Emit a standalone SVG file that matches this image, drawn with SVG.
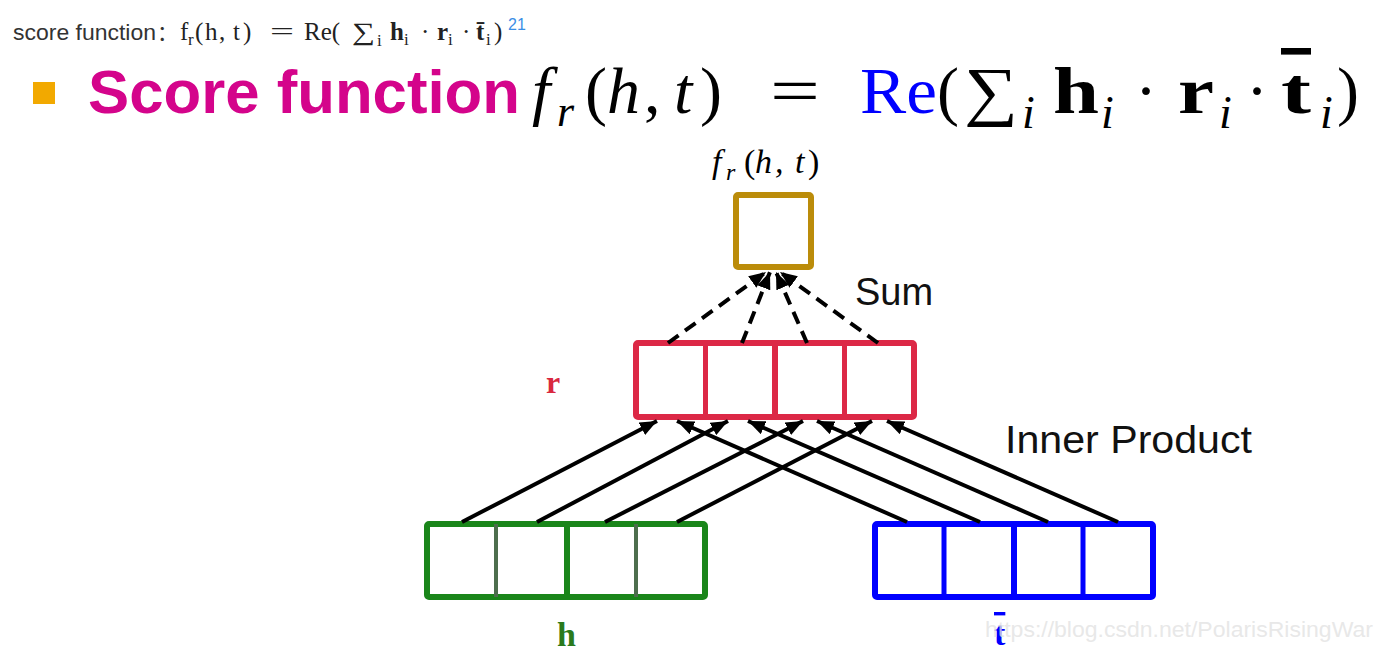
<svg xmlns="http://www.w3.org/2000/svg" width="1400" height="663" viewBox="0 0 1400 663">
<defs>
<style>
.sans{font-family:"Liberation Sans",Arial,sans-serif}
.serif{font-family:"Liberation Serif","Times New Roman",serif}
.it{font-style:italic}
.b{font-weight:bold}
.cell{fill:#ffffff;stroke-width:6;stroke-linejoin:round}
.arrow{stroke:#000;stroke-width:4;fill:none;marker-end:url(#ah)}
.dash{stroke:#000;stroke-width:4;fill:none;stroke-dasharray:13 8;marker-end:url(#ah)}
</style>
<marker id="ah" markerUnits="userSpaceOnUse" markerWidth="17" markerHeight="14" refX="17" refY="7" orient="auto">
<path d="M0,0 L17,7 L0,14 z" fill="#000"/>
</marker>
</defs>
<rect width="1400" height="663" fill="#ffffff"/>

<g id="caption">
<text class="sans" x="13" y="40" font-size="22" fill="#333" textLength="143" lengthAdjust="spacingAndGlyphs">score function</text>
<text x="157" y="40" font-size="21" fill="#333" font-family="'Noto Sans CJK SC',sans-serif">：</text>
<text class="serif" y="40" font-size="25" fill="#222"><tspan x="180">f</tspan><tspan x="188" y="45" font-size="17">r</tspan><tspan x="195" y="40">(</tspan><tspan x="205">h</tspan><tspan x="219">,</tspan><tspan x="233">t</tspan><tspan x="243">)</tspan><tspan x="270" textLength="24" lengthAdjust="spacingAndGlyphs">=</tspan><tspan x="304">Re(</tspan><tspan x="352" textLength="23" lengthAdjust="spacingAndGlyphs">∑</tspan><tspan x="377" y="46" font-size="17">i</tspan><tspan x="390" y="40" font-weight="bold">h</tspan><tspan x="404" y="45" font-size="17">i</tspan><tspan x="421" y="40">·</tspan><tspan x="437" font-weight="bold">r</tspan><tspan x="448" y="45" font-size="17">i</tspan><tspan x="462" y="40">·</tspan><tspan x="476" font-weight="bold">t&#x304;</tspan><tspan x="486" y="45" font-size="17">i</tspan><tspan x="494" y="40">)</tspan></text>
<text class="sans" x="508" y="30" font-size="16" fill="#3a8ee6">21</text>
</g>

<g id="title">
<rect x="33" y="82" width="22" height="22" fill="#f2a900"/>
<text class="sans b" x="88" y="113" font-size="62" fill="#d4048b" textLength="432" lengthAdjust="spacingAndGlyphs">Score function</text>
<text class="serif" y="113" font-size="66" fill="#000"><tspan x="532" class="it">f</tspan><tspan x="557" y="126" font-size="44" class="it">r</tspan><tspan x="585" y="113">(</tspan><tspan x="607" class="it">h</tspan><tspan x="644">,</tspan><tspan x="674" class="it">t</tspan><tspan x="700">)</tspan><tspan x="770" textLength="50" lengthAdjust="spacingAndGlyphs">=</tspan><tspan x="860" fill="#0000ff" textLength="77" lengthAdjust="spacingAndGlyphs">Re</tspan><tspan x="937">(</tspan><tspan x="964" textLength="54" lengthAdjust="spacingAndGlyphs">∑</tspan><tspan x="1022" y="128" font-size="46" class="it">i</tspan><tspan x="1053" y="113" font-weight="bold" textLength="46" lengthAdjust="spacingAndGlyphs">h</tspan><tspan x="1101" y="128" font-size="46" class="it">i</tspan><tspan x="1135" y="113">·</tspan><tspan x="1178" font-weight="bold" textLength="36" lengthAdjust="spacingAndGlyphs">r</tspan><tspan x="1219" y="128" font-size="46" class="it">i</tspan><tspan x="1246" y="113">·</tspan><tspan x="1281" font-weight="bold" text-decoration="overline" textLength="30" lengthAdjust="spacingAndGlyphs">t</tspan><tspan x="1320" y="128" font-size="46" class="it">i</tspan><tspan x="1337" y="113">)</tspan></text>
</g>

<g id="score">
<text class="serif it" y="173" font-size="34" fill="#000"><tspan x="712">f</tspan><tspan x="726" y="180" font-size="24">r</tspan><tspan x="744" y="173" font-style="normal">(</tspan><tspan x="755">h</tspan><tspan x="775">,</tspan><tspan x="795">t</tspan><tspan x="808" font-style="normal">)</tspan></text>
<rect class="cell" x="736" y="195" width="75" height="72" rx="2" stroke="#bb8c0a"/>
</g>

<g id="r-vector">
<rect class="cell" x="636" y="343" width="278" height="74" rx="2" stroke="#dc2846"/>
<line x1="705.5" y1="343" x2="705.5" y2="417" stroke="#dc2846" stroke-width="5"/>
<line x1="775" y1="343" x2="775" y2="417" stroke="#dc2846" stroke-width="6"/>
<line x1="844.5" y1="343" x2="844.5" y2="417" stroke="#dc2846" stroke-width="5"/>
<text class="serif b" x="546" y="393" font-size="32" fill="#d9283f">r</text>
</g>

<g id="h-vector">
<rect class="cell" x="427" y="524" width="278" height="73" rx="2" stroke="#1a861a"/>
<line x1="496" y1="524" x2="496" y2="597" stroke="#4d6e4d" stroke-width="4"/>
<line x1="567" y1="524" x2="567" y2="597" stroke="#1a861a" stroke-width="6"/>
<line x1="636" y1="524" x2="636" y2="597" stroke="#4d6e4d" stroke-width="4"/>
<text class="serif b" x="557" y="646" font-size="34" fill="#2b7a1c">h</text>
</g>

<g id="t-vector">
<rect class="cell" x="875" y="524" width="278" height="73" rx="2" stroke="#0000ff"/>
<line x1="944" y1="524" x2="944" y2="597" stroke="#0000ff" stroke-width="5"/>
<line x1="1014" y1="524" x2="1014" y2="597" stroke="#0000ff" stroke-width="6"/>
<line x1="1083" y1="524" x2="1083" y2="597" stroke="#0000ff" stroke-width="5"/>
<text class="serif b" x="994" y="645" font-size="34" fill="#0000ff" text-decoration="overline">t</text>
</g>

<g id="connectors">
<line class="dash" x1="668" y1="343" x2="766" y2="272"/>
<line class="dash" x1="742" y1="343" x2="770" y2="272"/>
<line class="dash" x1="807" y1="343" x2="776" y2="272"/>
<line class="dash" x1="878" y1="343" x2="780" y2="272"/>
<line class="arrow" x1="462" y1="522" x2="657" y2="421"/>
<line class="arrow" x1="537" y1="522" x2="728" y2="421"/>
<line class="arrow" x1="605" y1="522" x2="803" y2="421"/>
<line class="arrow" x1="677" y1="522" x2="872" y2="421"/>
<line class="arrow" x1="907" y1="522" x2="677" y2="421"/>
<line class="arrow" x1="980" y1="522" x2="748" y2="421"/>
<line class="arrow" x1="1048" y1="522" x2="817" y2="421"/>
<line class="arrow" x1="1118" y1="522" x2="887" y2="421"/>
</g>

<g id="labels">
<text class="sans" x="855" y="305" font-size="38" fill="#111">Sum</text>
<text class="sans" x="1005" y="453" font-size="38" fill="#111" textLength="247" lengthAdjust="spacingAndGlyphs">Inner Product</text>
<text class="sans" x="985" y="637" font-size="22" fill="#e2e2e2" fill-opacity="0.8" textLength="388" lengthAdjust="spacingAndGlyphs">https://blog.csdn.net/PolarisRisingWar</text>
</g>
</svg>
